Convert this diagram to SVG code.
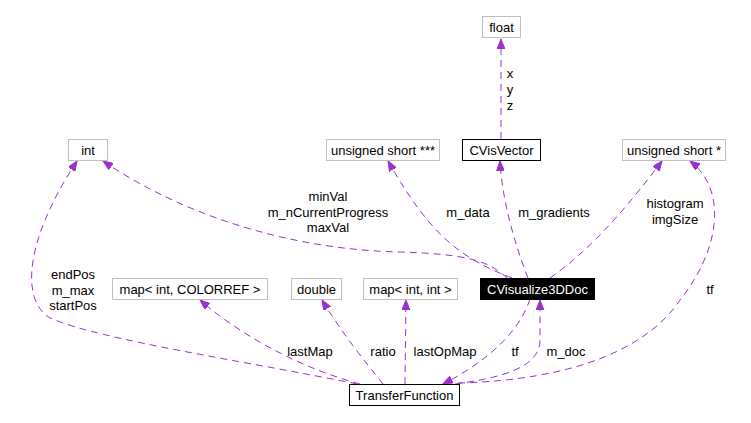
<svg xmlns="http://www.w3.org/2000/svg" width="751" height="423" viewBox="0 0 751 423">
<style>
text{font-family:"Liberation Sans",Arial,sans-serif;font-size:13px;fill:#000}
.n text{text-anchor:middle}
.g rect{fill:#fff;stroke:#bfbfbf;stroke-width:1}
.b rect{fill:#fff;stroke:#000;stroke-width:1}
.k rect{fill:#000;stroke:#000;stroke-width:1}
.k text{fill:#fff}
.e path{fill:none;stroke:#9a32cd;stroke-width:1;stroke-dasharray:7,5;marker-end:url(#ah)}
.l text{text-anchor:middle}
</style>
<defs>
<marker id="ah" markerUnits="userSpaceOnUse" markerWidth="11" markerHeight="8" refX="10" refY="4" orient="auto">
<path d="M0,0 L10,4 L0,8 z" fill="#9a32cd" stroke="#9a32cd" stroke-width="1"/>
</marker>
</defs>
<rect width="751" height="423" fill="#fff"/>
<g id="edges" class="e">
<path d="M501,139 L501,39"/>
<path d="M528,278 C515,245 502,200 500,161"/>
<path d="M512,278 C460,258 430,235 388,161"/>
<path d="M507,278 C490,262 470,254 400,252 C300,250 190,220 103,161"/>
<path d="M550,278 C590,250 625,210 662,161"/>
<path d="M458,383 C580,380 650,345 680,300 C720,250 728,190 690,161"/>
<path d="M357,384 C250,362 100,340 50,318 C20,300 25,240 77,161"/>
<path d="M360,384 C300,368 240,335 200,300"/>
<path d="M383,384 C365,362 340,330 322,300"/>
<path d="M405,384 L406,300"/>
<path d="M530,299 C520,330 490,360 443,384"/>
<path d="M455,384 C500,378 540,368 540,340 L540,300"/>
</g>
<g id="labels" class="l">
<text x="510" y="78">x</text>
<text x="510" y="94">y</text>
<text x="510" y="110">z</text>
<text x="328" y="201">minVal</text>
<text x="328" y="217">m_nCurrentProgress</text>
<text x="328" y="232">maxVal</text>
<text x="468" y="217">m_data</text>
<text x="554" y="217">m_gradients</text>
<text x="675" y="208">histogram</text>
<text x="675" y="224">imgSize</text>
<text x="710" y="294">tf</text>
<text x="73" y="279">endPos</text>
<text x="73" y="295">m_max</text>
<text x="73" y="310">startPos</text>
<text x="310" y="356">lastMap</text>
<text x="383" y="356">ratio</text>
<text x="445" y="356">lastOpMap</text>
<text x="515" y="356">tf</text>
<text x="566" y="356">m_doc</text>
</g>
<g id="float" class="n g"><rect x="482.5" y="16.5" width="38" height="21"/><text x="501.5" y="31.5">float</text></g>
<g id="CVisVector" class="n b"><rect x="462.5" y="139.5" width="78" height="21"/><text x="501.5" y="154.5">CVisVector</text></g>
<g id="int" class="n g"><rect x="68.5" y="139.5" width="39" height="21"/><text x="88" y="154.5">int</text></g>
<g id="ushort3" class="n g"><rect x="326.5" y="139.5" width="113" height="21"/><text x="383" y="154.5">unsigned short ***</text></g>
<g id="ushort1" class="n g"><rect x="622.5" y="139.5" width="103" height="21"/><text x="674" y="154.5">unsigned short *</text></g>
<g id="mapColorref" class="n g"><rect x="112.5" y="278.5" width="155" height="21"/><text x="190" y="293.5">map&lt; int, COLORREF &gt;</text></g>
<g id="double" class="n g"><rect x="291.5" y="278.5" width="50" height="21"/><text x="316.5" y="293.5">double</text></g>
<g id="mapIntInt" class="n g"><rect x="363.5" y="278.5" width="94" height="21"/><text x="410.5" y="293.5">map&lt; int, int &gt;</text></g>
<g id="CVisualize3DDoc" class="n k"><rect x="480.5" y="278.5" width="114" height="21"/><text x="537.5" y="293.5">CVisualize3DDoc</text></g>
<g id="TransferFunction" class="n b"><rect x="349.5" y="384.5" width="110" height="21"/><text x="404.5" y="399.5">TransferFunction</text></g>
</svg>
